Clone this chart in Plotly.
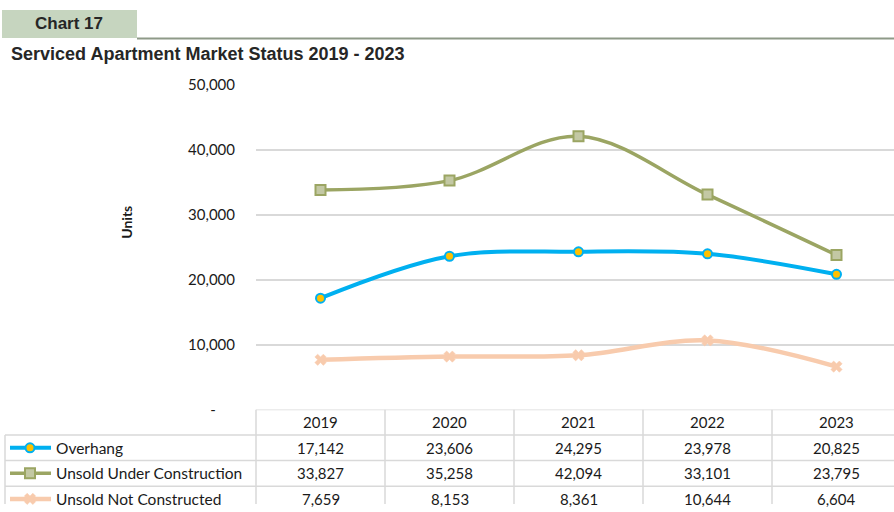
import plotly.graph_objects as go

# data
years = ["2019", "2020", "2021", "2022", "2023"]
overhang = [17142, 23606, 24295, 23978, 20825]
unsold_under_construction = [33827, 35258, 42094, 33101, 23795]
unsold_not_constructed = [7659, 8153, 8361, 10644, 6604]

series_names = ["Overhang", "Unsold Under Construction", "Unsold Not Constructed"]
y_tick_vals = [0, 10000, 20000, 30000, 40000, 50000]
y_tick_text = ["-     ", "10,000", "20,000", "30,000", "40,000", "50,000"]

# page geometry, in pixels of the 894x512 picture
W, H = 894, 512
PLOT_LEFT = 256
COL_W = 129
PLOT_TOP, PLOT_BOTTOM = 84, 409
# the photographed page shows the figure squeezed vertically with a small band on top
SHOT_SCALE = 512 / 530
SHOT_OFFSET = 9
LAST_ROW_CENTER = 498.5

FONT = "Lato, Calibri, Carlito, Noto Sans, sans-serif"
TITLE_FONT = "Liberation Sans, Arial, sans-serif"
TEXT_COLOR = "#1a1a1a"

styles = [
    dict(line=dict(color="#00B0F0", width=4),
         marker=dict(symbol="circle", size=9, color="#FFC000",
                     line=dict(color="#00B0F0", width=2))),
    dict(line=dict(color="#9BA563", width=3.5),
         marker=dict(symbol="square", size=10, color="#C3C8A4",
                     line=dict(color="#9BA563", width=2))),
    dict(line=dict(color="#F8CBAD", width=4.5),
         marker=dict(symbol="x", size=10, color="#F8CBAD",
                     line=dict(color="#F8CBAD", width=0.5))),
]
all_values = [overhang, unsold_under_construction, unsold_not_constructed]


def py(y):
    # picture pixel (from top) -> paper fraction
    fy = (y - SHOT_OFFSET) / SHOT_SCALE
    return min(1, max(0, 1 - fy / H))


x_range = [-0.5, -0.5 + (W - PLOT_LEFT) / COL_W]
x2_range = [-0.5 - PLOT_LEFT / COL_W, x_range[1]]
shot_bottom = SHOT_OFFSET + H * SHOT_SCALE
row_h = (LAST_ROW_CENTER - PLOT_BOTTOM) / 3.5
y2_bottom = (shot_bottom - PLOT_BOTTOM) / row_h


def px2(x):
    # picture pixel -> table axis units
    return x2_range[0] + x / COL_W


fig = go.Figure()

# lines
for name, vals, st in zip(series_names, all_values, styles):
    fig.add_trace(go.Scatter(
        x=years, y=vals, name=name, mode="lines+markers",
        line=dict(shape="spline", smoothing=1, **st["line"]),
        marker=st["marker"], cliponaxis=False, showlegend=False,
    ))

# data table: legend glyphs in the first column
for i, (name, st) in enumerate(zip(series_names, styles)):
    yc = i + 1.5
    fig.add_trace(go.Scatter(
        x=[px2(10), px2(51)], y=[yc, yc], mode="lines",
        line=dict(color=st["line"]["color"], width=st["line"]["width"]),
        xaxis="x2", yaxis="y2", showlegend=False, hoverinfo="skip",
    ))
    fig.add_trace(go.Scatter(
        x=[px2(30)], y=[yc], mode="markers", marker=st["marker"],
        xaxis="x2", yaxis="y2", showlegend=False, hoverinfo="skip", cliponaxis=False,
    ))
    fig.add_annotation(x=px2(54), y=yc, xref="x2", yref="y2", text=name,
                       showarrow=False, xanchor="left", yanchor="middle",
                       font=dict(family=FONT, size=15.5, color=TEXT_COLOR))

# header row and values
for j, yr in enumerate(years):
    fig.add_annotation(x=j, y=0.5, xref="x2", yref="y2", text=yr, showarrow=False,
                       xanchor="center", yanchor="middle",
                       font=dict(family=FONT, size=15, color=TEXT_COLOR))
    for i, vals in enumerate(all_values):
        fig.add_annotation(x=j, y=i + 1.5, xref="x2", yref="y2",
                           text=f"{vals[j]:,}", showarrow=False,
                           xanchor="center", yanchor="middle",
                           font=dict(family=FONT, size=15, color=TEXT_COLOR))

grid = dict(color="#D9D9D9", width=1.5)
# table borders
for j in range(len(years) + 1):
    fig.add_shape(type="line", xref="x2", yref="y2", x0=j - 0.5, x1=j - 0.5,
                  y0=0, y1=y2_bottom, line=grid)
fig.add_shape(type="line", xref="x2", yref="y2", x0=-0.5, x1=len(years) - 0.5,
              y0=0, y1=0, line=grid)
for r in range(1, 4):
    fig.add_shape(type="line", xref="x2", yref="y2", x0=px2(5), x1=len(years) - 0.5,
                  y0=r, y1=r, line=grid)
fig.add_shape(type="line", xref="x2", yref="y2", x0=px2(5), x1=px2(5),
              y0=1, y1=y2_bottom, line=grid)

# header block
fig.add_shape(type="rect", xref="paper", yref="paper", x0=2 / W, x1=137 / W,
              y0=py(37), y1=py(7), fillcolor="#C6D5BF", line_width=0, layer="below")
fig.add_shape(type="line", xref="paper", yref="paper", x0=137 / W, x1=1,
              y0=py(37.5), y1=py(37.5), line=dict(color="#8E9A88", width=2))
fig.add_annotation(x=69 / W, y=py(23), xref="paper", yref="paper", text="<b>Chart 17</b>",
                   showarrow=False, xanchor="center", yanchor="middle",
                   font=dict(family=TITLE_FONT, size=17, color="#262626"))
fig.add_annotation(x=9 / W, y=py(53), xref="paper", yref="paper",
                   xanchor="left", yanchor="middle",
                   text="<b>Serviced Apartment Market Status 2019 - 2023</b>",
                   showarrow=False, font=dict(family=TITLE_FONT, size=18, color="#262626"))
fig.add_annotation(x=127 / W, y=py(222), xref="paper", yref="paper", text="<b>Units</b>",
                   textangle=-90, showarrow=False, xanchor="center", yanchor="middle",
                   font=dict(family=FONT, size=14, color=TEXT_COLOR))

fig.update_layout(
    width=W, height=H,
    margin=dict(l=0, r=0, t=0, b=0),
    paper_bgcolor="white", plot_bgcolor="white",
    showlegend=False,
    xaxis=dict(domain=[PLOT_LEFT / W, 1], range=x_range, type="category",
               showticklabels=False, showgrid=False, zeroline=False, showline=False,
               fixedrange=True),
    yaxis=dict(domain=[py(PLOT_BOTTOM), py(PLOT_TOP)], range=[0, 50000],
               tickvals=y_tick_vals, ticktext=y_tick_text,
               gridcolor="#D9D9D9", gridwidth=1.5, zeroline=False, showline=False,
               ticklabelstandoff=20,
               tickfont=dict(family=FONT, size=15, color=TEXT_COLOR)),
    xaxis2=dict(domain=[0, 1], range=x2_range, anchor="y2", visible=False),
    yaxis2=dict(domain=[0, py(PLOT_BOTTOM)], range=[y2_bottom, 0], anchor="x2",
                visible=False),
)

fig.write_html(
    "out.html",
    config={"displayModeBar": False},
    post_script=(
        "document.body.style.margin = '0';"
        "document.body.style.overflow = 'hidden';"
    ),
)
